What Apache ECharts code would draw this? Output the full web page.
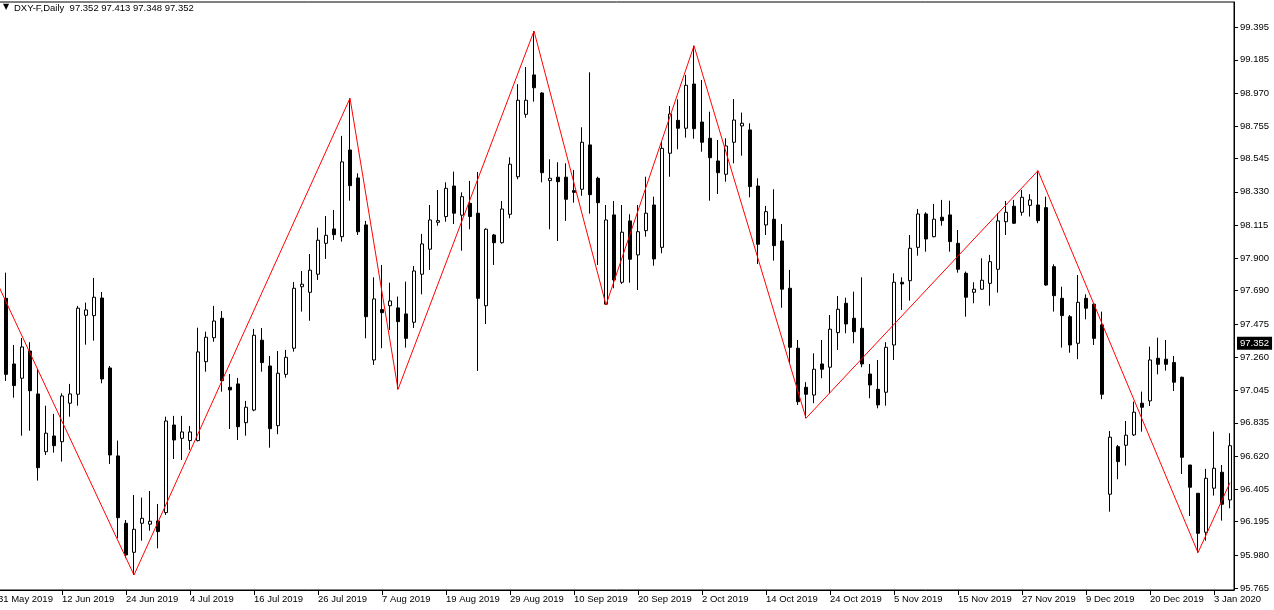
<!DOCTYPE html>
<html><head><meta charset="utf-8">
<script src="https://cdn.jsdelivr.net/npm/echarts@6/dist/echarts.min.js"></script>
<style>html,body{margin:0;padding:0;background:#fff}#c{width:1274px;height:610px}</style>
</head><body><div id="c"></div>
<script>
// ---- data ----
const opens = [98.168,97.641,97.216,97.124,97.300,97.022,96.648,96.750,96.713,96.962,
97.020,97.531,97.529,97.643,97.190,96.621,96.185,95.997,96.185,96.179,
96.200,96.254,96.821,96.735,96.720,96.720,97.231,97.386,97.512,97.065,
97.087,96.836,96.918,97.370,97.203,96.817,97.149,97.318,97.716,97.680,
97.797,97.997,98.090,98.040,98.601,98.420,98.116,97.242,97.568,97.593,
97.579,97.540,97.486,97.797,97.959,98.133,98.170,98.368,98.179,98.256,
98.192,97.593,98.051,98.001,98.185,98.428,98.832,99.087,98.970,98.403,
98.425,98.425,98.338,98.347,98.634,98.418,97.603,98.181,97.745,98.142,
97.922,98.079,98.245,97.971,98.580,98.793,98.742,99.028,98.782,98.677,
98.530,98.444,98.651,98.757,98.731,98.368,98.116,98.153,98.012,97.706,
97.318,97.065,97.015,97.216,97.195,97.419,97.609,97.512,97.447,97.151,
97.052,97.033,97.339,97.745,97.755,97.971,98.187,98.040,98.166,98.181,
97.997,97.803,97.680,97.700,97.738,97.829,98.137,98.237,98.198,98.243,
98.245,98.228,97.846,97.641,97.522,97.350,97.641,97.603,97.469,96.373,
96.681,96.690,96.757,96.962,96.977,97.253,97.247,97.225,97.130,96.562,
96.379,96.127,96.412,96.515,96.336];
const highs = [98.213,97.807,97.339,97.384,97.357,97.184,96.946,96.893,97.026,97.087,
97.592,97.613,97.773,97.682,97.203,96.720,96.206,96.368,96.351,96.394,
96.310,96.875,96.880,96.880,96.815,97.451,97.425,97.592,97.559,97.151,
97.126,96.977,97.443,97.449,97.268,97.300,97.307,97.747,97.818,97.928,
98.098,98.174,98.213,98.692,98.936,98.450,98.142,97.777,97.857,97.742,
97.652,97.749,97.850,98.058,98.245,98.342,98.392,98.461,98.327,98.401,
98.459,98.094,98.058,98.271,98.554,99.027,99.138,99.371,98.975,98.541,
98.522,98.515,98.472,98.748,99.104,98.428,98.245,98.271,98.245,98.185,
98.245,98.428,98.299,98.655,98.886,98.929,99.087,99.276,99.054,98.849,
98.666,98.677,98.931,98.843,98.774,98.418,98.239,98.347,98.122,97.825,
97.371,97.098,97.285,97.371,97.533,97.656,97.645,97.684,97.777,97.216,
97.242,97.357,97.803,97.777,98.051,98.219,98.198,98.252,98.278,98.273,
98.083,97.814,97.745,97.900,97.922,98.192,98.271,98.278,98.342,98.315,
98.467,98.299,97.861,97.716,97.533,97.792,97.667,97.611,97.555,96.782,
96.692,96.847,96.972,97.037,97.328,97.386,97.371,97.268,97.134,96.562,
96.379,96.537,96.778,96.562,96.768];
const lows = [97.727,97.106,96.998,96.752,96.784,96.461,96.627,96.642,96.584,96.875,
96.946,97.341,97.367,97.091,96.569,96.088,95.959,95.850,96.072,96.137,
96.023,96.239,96.601,96.595,96.660,96.715,97.166,97.360,97.037,96.795,
96.724,96.752,96.910,97.166,96.674,96.761,97.127,97.296,97.555,97.496,
97.760,97.896,98.019,98.008,98.273,98.051,97.382,97.210,97.318,97.436,
97.052,97.322,97.449,97.667,97.825,98.111,98.137,98.122,97.949,98.088,
97.171,97.475,97.857,97.995,98.159,98.412,98.810,98.914,98.392,98.088,
98.012,98.142,98.260,98.305,98.189,97.857,97.598,97.706,97.734,97.742,
97.695,98.040,97.852,97.933,98.428,98.606,98.681,98.674,98.590,98.273,
98.316,98.396,98.515,98.564,98.295,97.863,98.051,97.885,97.580,97.221,
96.951,96.865,96.962,97.124,97.026,97.307,97.415,97.350,97.195,96.994,
96.929,96.946,97.242,97.566,97.626,97.917,97.943,98.036,98.111,97.943,
97.807,97.522,97.609,97.695,97.593,97.678,98.051,98.122,98.176,98.170,
98.127,97.723,97.555,97.322,97.289,97.247,97.505,97.339,96.988,96.260,
96.470,96.558,96.750,96.778,96.944,97.149,97.173,97.041,96.504,96.232,
95.995,96.072,96.364,96.202,96.282];
const closes = [97.747,97.149,97.076,97.326,97.043,96.545,96.768,96.687,97.009,97.022,
97.577,97.566,97.648,97.119,96.627,96.221,95.980,96.146,96.217,96.198,
96.131,96.847,96.724,96.776,96.776,97.294,97.389,97.494,97.108,97.048,
96.810,96.936,97.402,97.225,96.797,97.156,97.259,97.706,97.732,97.823,
98.017,98.049,98.053,98.524,98.370,98.072,97.522,97.637,97.548,97.624,
97.490,97.382,97.818,97.993,98.148,98.144,98.353,98.192,98.299,98.170,
97.641,98.088,98.001,98.219,98.509,98.923,98.923,99.004,98.454,98.418,
98.396,98.282,98.327,98.651,98.312,98.260,98.148,97.760,98.069,97.894,
98.072,98.192,97.896,98.612,98.834,98.742,99.020,98.739,98.651,98.551,
98.454,98.627,98.795,98.774,98.364,97.991,98.202,97.982,97.700,97.324,
96.972,97.020,97.182,97.182,97.441,97.570,97.475,97.425,97.216,97.080,
96.951,97.324,97.745,97.734,97.965,98.187,98.025,98.153,98.144,98.008,
97.829,97.648,97.700,97.758,97.878,98.142,98.198,98.127,98.295,98.278,
98.144,97.727,97.658,97.529,97.339,97.615,97.577,97.382,97.020,96.742,
96.584,96.755,96.904,96.936,97.242,97.214,97.214,97.098,96.612,96.418,
96.120,96.476,96.541,96.308,96.687];
const tickLabels = ['31 May 2019','12 Jun 2019','24 Jun 2019','4 Jul 2019','16 Jul 2019','26 Jul 2019',
'7 Aug 2019','19 Aug 2019','29 Aug 2019','10 Sep 2019','20 Sep 2019','2 Oct 2019','14 Oct 2019',
'24 Oct 2019','5 Nov 2019','15 Nov 2019','27 Nov 2019','9 Dec 2019','20 Dec 2019','3 Jan 2020'];
const priceTicks = [95.765,95.980,96.195,96.405,96.620,96.835,97.045,97.260,97.475,97.690,
97.900,98.115,98.330,98.545,98.755,98.970,99.185,99.395];
const zigzagIdx = [0,17,44,50,67,76,87,101,130,150,154];
const zigzagVal = [97.729,95.850,98.936,97.052,99.371,97.598,99.276,96.865,98.467,95.995,96.448];
const lastPrice = 97.352;
const titleText = 'DXY-F,Daily  97.352 97.413 97.348 97.352';
const startDate = '2019-05-31';
const holidays = ['2019-12-25','2020-01-01'];

// ---- categories: trading days ----
const categories = [];
(function(){
  const d = new Date(startDate + 'T00:00:00Z');
  while (categories.length < opens.length) {
    const wd = d.getUTCDay();
    const iso = d.toISOString().slice(0,10);
    if (wd !== 0 && wd !== 6 && holidays.indexOf(iso) < 0) categories.push(iso);
    d.setUTCDate(d.getUTCDate() + 1);
  }
})();

const candleData = opens.map((o, i) => [o, closes[i], lows[i], highs[i]]);
const zigzagData = zigzagIdx.map((x, i) => [x, zigzagVal[i]]);
const FONT = 'Liberation Sans';

const chart = echarts.init(document.getElementById('c'), null, {renderer: 'canvas'});
chart.setOption({
  animation: false,
  backgroundColor: '#fff',
  grid: {left: -6, width: 1240, top: 2, bottom: 20, outerBoundsMode: 'none', containLabel: false,
    show: true, borderColor: '#000', borderWidth: 1, backgroundColor: 'transparent'},
  graphic: [
    {type: 'text', left: 3, top: 3, style: {text: '\u25BC', fill: '#000', font: '8px "DejaVu Sans"'}},
    {type: 'text', left: 14, top: 3, style: {text: titleText, fill: '#000', font: '9.5px "' + FONT + '"'}}
  ],
  xAxis: {
    type: 'category', data: categories, boundaryGap: true,
    axisLine: {show: true, lineStyle: {color: '#000', width: 1}},
    axisTick: {show: true, alignWithLabel: true, length: 5, interval: (i) => i % 8 === 0, lineStyle: {color: '#000'}},
    axisLabel: {show: true, interval: (i) => i % 8 === 0, align: 'left', margin: 4,
      color: '#000', fontSize: 9.5, fontFamily: FONT,
      formatter: (v, i) => tickLabels[i / 8] || ''},
    splitLine: {show: false}
  },
  yAxis: {
    type: 'value', position: 'right', min: 95.753, max: 99.559, scale: true,
    axisLine: {show: true, lineStyle: {color: '#000', width: 1}},
    axisTick: {show: true, length: 4, customValues: priceTicks, lineStyle: {color: '#000'}},
    axisLabel: {show: true, customValues: priceTicks, margin: 6, color: '#000', fontSize: 9.5, fontFamily: FONT,
      formatter: (v) => v.toFixed(3)},
    splitLine: {show: false}
  },
  series: [
    {
      type: 'candlestick', data: candleData, barWidth: 4,
      itemStyle: {color: '#ffffff', color0: '#000000', borderColor: '#000000', borderColor0: '#000000', borderWidth: 1},
      markLine: {
        silent: true, symbol: 'none', animation: false,
        lineStyle: {color: 'transparent', width: 0},
        data: [{yAxis: lastPrice}],
        label: {show: true, position: 'end', distance: 3, formatter: lastPrice.toFixed(3),
          backgroundColor: '#000', color: '#fff', padding: [2, 3, 1, 3], fontSize: 9.5, fontFamily: FONT}
      }
    },
    {
      type: 'line', data: zigzagData, symbol: 'none', z: 5,
      lineStyle: {color: '#ff0000', width: 1}
    }
  ]
});
</script>
</body></html>
